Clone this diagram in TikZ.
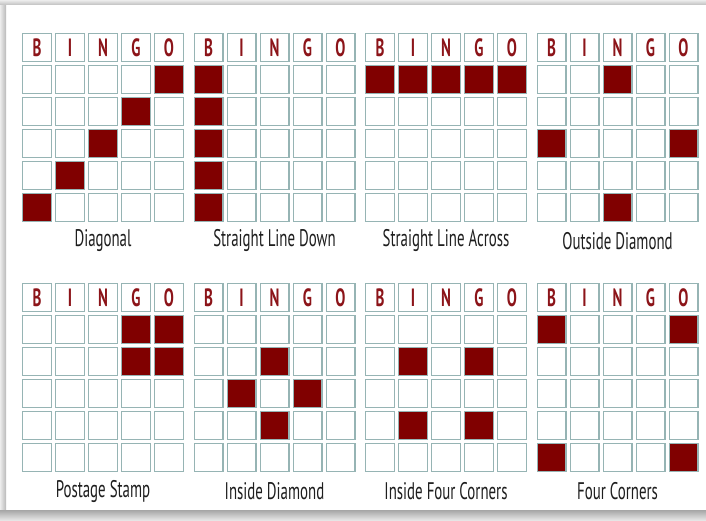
\documentclass[tikz,border=0pt]{standalone}
\usepackage{fontspec}
\newfontfamily\condfont[FakeStretch=0.62]{PT Sans}
\newfontfamily\headfont[FakeStretch=0.6]{PT Sans}
\definecolor{cellline}{RGB}{150,180,180}
\definecolor{bingored}{RGB}{128,0,0}
\definecolor{letterred}{RGB}{140,20,25}
\definecolor{labeltext}{RGB}{30,30,30}
\begin{document}
\begin{tikzpicture}[x=1pt,y=-1pt,
  cellbox/.style={draw=cellline,line width=1.3pt,fill=white,minimum width=28.7pt,minimum height=27.7pt,inner sep=0pt,anchor=north west},
  hitbox/.style={cellbox,fill=bingored},
  headtext/.style={font=\headfont\bfseries\fontsize{25}{25}\selectfont,text=letterred},
  captext/.style={font=\condfont\fontsize{24}{24}\selectfont,text=labeltext}]
\useasboundingbox (0,0) rectangle (706,521);
\fill[white] (0,0) rectangle (706,521);
\shade[left color=gray!15,right color=gray!55] (0,0) rectangle (6,521);
\shade[top color=gray!15,bottom color=gray!50] (0,0) rectangle (706,5);
\shade[top color=gray!70,bottom color=gray!15] (0,510) rectangle (706,521);
\foreach \c/\r/\n/\cap/\cells in {
  0/0/1/Diagonal/{1/4,2/3,3/2,4/1,5/0},
  1/0/2/Straight Line Down/{1/0,2/0,3/0,4/0,5/0},
  2/0/3/Straight Line Across/{1/0,1/1,1/2,1/3,1/4},
  3/0/4/Outside Diamond/{1/2,3/0,3/4,5/2},
  0/1/5/Postage Stamp/{1/3,1/4,2/3,2/4},
  1/1/6/Inside Diamond/{2/2,3/1,3/3,4/2},
  2/1/7/Inside Four Corners/{2/1,2/3,4/1,4/3},
  3/1/8/Four Corners/{1/0,1/4,5/0,5/4}}{
  \pgfmathsetmacro\xo{22+171.5*\c}
  \pgfmathsetmacro\yo{33+250*\r}
  \foreach \j/\L in {0/B,1/I,2/N,3/G,4/O}{
    \node[cellbox,headtext] (h\n-\j) at (\xo+33*\j,\yo) {\L};
  }
  \foreach \k in {1,...,5}{
    \foreach \j in {0,...,4}{
      \node[cellbox] (g\n-\k-\j) at (\xo+33*\j,\yo+32*\k) {};
    }
  }
  \foreach \k/\j in \cells{
    \node[hitbox] (f\n-\k-\j) at (\xo+33*\j,\yo+32*\k) {};
  }
  \node[captext] (cap\n) at (\xo+81,\yo+208) {\cap};
}
\end{tikzpicture}
\end{document}
